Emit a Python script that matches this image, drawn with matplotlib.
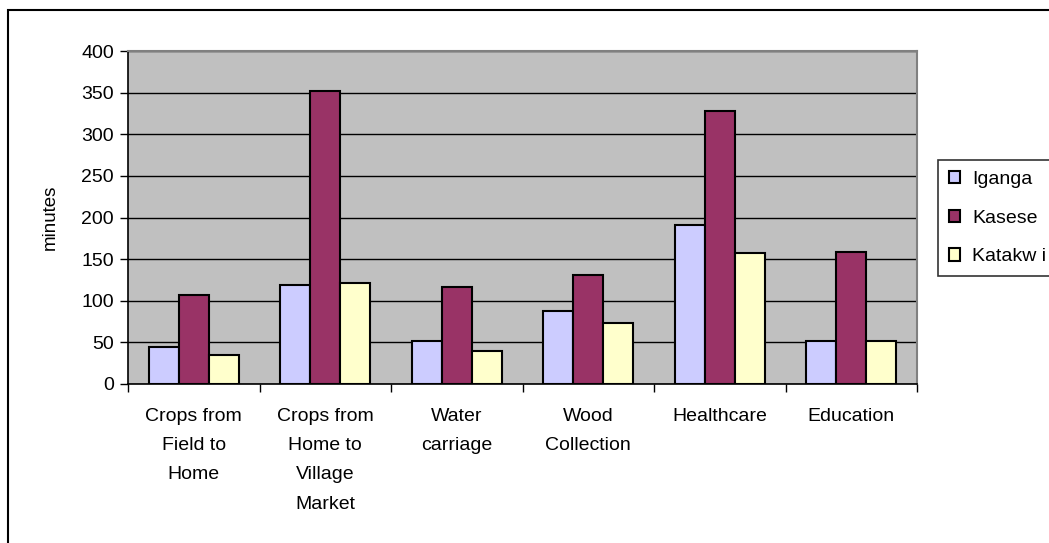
import numpy as np
import matplotlib.pyplot as plt
from matplotlib.patches import Rectangle

plt.rcParams['font.family'] = ['Liberation Sans', 'DejaVu Sans']

CATEGORIES = ["Crops from\nField to\nHome", "Crops from\nHome to\nVillage\nMarket",
              "Water\ncarriage", "Wood\nCollection", "Healthcare", "Education"]
IGANGA  = [45, 119, 52, 88, 191, 52]
KASESE  = [107, 352, 117, 131, 328, 158]
KATAKWI = [35, 121, 40, 73, 157, 52]
SERIES  = ["Iganga", "Kasese", "Katakw i"]
COLORS  = ["#CCCCFF", "#993366", "#FFFFCC"]

fig = plt.figure(figsize=(10.49, 5.43), dpi=100)
ax = fig.add_axes([128/1049, 1-384/543, (917-128)/1049, (384-51)/543])

# outer chart border
fig.patches.append(Rectangle((8/1049, -0.1), 1.2, 1-10/543+0.1, transform=fig.transFigure,
                             fill=False, edgecolor="black", linewidth=1.5))

x = np.arange(len(CATEGORIES))
w = 0.228
for i, (vals, name, col) in enumerate(zip([IGANGA, KASESE, KATAKWI], SERIES, COLORS)):
	ax.bar(x + (i-1)*w, vals, w, color=col, edgecolor="black", linewidth=1.5,
	       label=name, zorder=3)

ax.set_facecolor("#C0C0C0")
ax.set_xlim(-0.5, len(CATEGORIES)-0.5)
ax.set_ylim(0, 400)
ax.set_yticks(range(0, 401, 50))
ax.yaxis.grid(True, color="black", linewidth=1, zorder=1)
ax.set_axisbelow(True)

ax.set_xticks(x)
ax.set_xticklabels(CATEGORIES, fontsize=14, linespacing=1.95, va="top")
ax.set_xticks(np.arange(-0.5, len(CATEGORIES)), minor=True)
ax.tick_params(axis="x", which="major", length=0, pad=17)
ax.tick_params(axis="x", which="minor", length=6, width=1, direction="out")
ax.tick_params(axis="y", length=6, width=1, labelsize=14, pad=4)

for s in ["top", "right"]:
	ax.spines[s].set_color("#808080")
	ax.spines[s].set_linewidth(1.5)
for s in ["left", "bottom"]:
	ax.spines[s].set_color("black")
	ax.spines[s].set_linewidth(1.2)

ax.set_ylabel("minutes", fontsize=13.5, labelpad=16)

leg = fig.legend(loc="upper left", bbox_to_anchor=(938/1049, 1-160/543), fontsize=14,
                 frameon=True, fancybox=False, edgecolor="black", handlelength=0.6,
                 handleheight=0.6, handletextpad=0.6, labelspacing=1.12, borderpad=0.55,
                 borderaxespad=0)
leg.get_frame().set_linewidth(1.2)

plt.savefig("out.png", dpi=100)
